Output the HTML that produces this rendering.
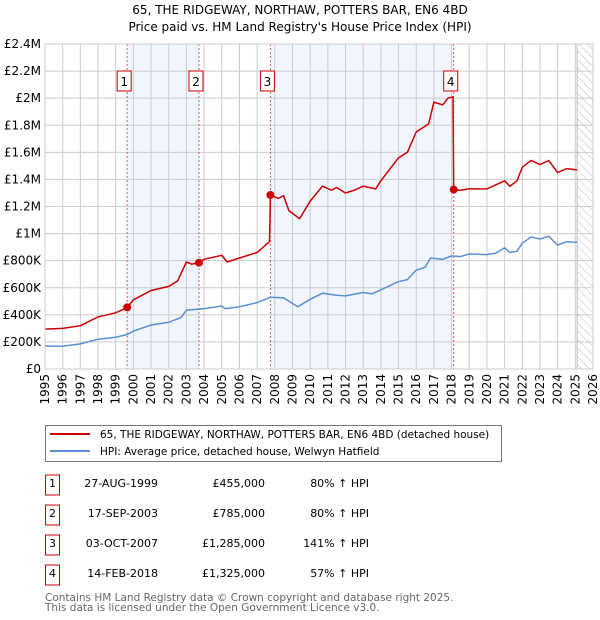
<!DOCTYPE html>
<html><head><meta charset="utf-8"><style>
body{margin:0;background:#fff;font-family:"DejaVu Sans","Liberation Sans",sans-serif}
#wrap{position:relative;width:600px;height:620px;overflow:hidden}
.t{font-size:12px;fill:#000;font-family:"DejaVu Sans","Liberation Sans",sans-serif}
.s{font-size:11px;fill:#000;font-family:"DejaVu Sans","Liberation Sans",sans-serif}
.l{font-size:10.5px;fill:#000;font-family:"DejaVu Sans","Liberation Sans",sans-serif}
</style></head><body>
<div id="wrap">
<svg id="svg" width="600" height="620" style="position:absolute;left:0;top:0"></svg>
</div>
<script>
const hpiYears=[1995,1996,1997,1998,1999,1999.65,2000,2001,2002,2002.7,2003,2004,2005,2005.2,2006,2007,2007.75,2008.5,2009.3,2010,2010.7,2011.5,2012,2013,2013.5,2014,2015,2015.5,2016,2016.5,2016.8,2017.5,2018,2018.5,2019,2020,2020.5,2021,2021.3,2021.7,2022,2022.5,2023,2023.5,2024,2024.5,2025.1];
const hpiValues=[170,168,185,220,235,255,280,325,345,380,435,445,465,445,460,490,530,525,460,515,560,545,540,565,555,585,645,660,730,750,820,810,835,830,850,845,855,895,860,870,930,975,960,980,915,940,935];
const priceYears=[1995,1996,1997,1998,1999,1999.65,2000,2001,2002,2002.5,2003,2003.3,2003.71,2004,2005,2005.3,2006,2007,2007.7,2007.75,2008.2,2008.5,2008.8,2009.4,2010,2010.7,2011.2,2011.5,2012,2012.5,2013,2013.7,2014,2015,2015.5,2016,2016.7,2017,2017.5,2017.8,2018.08,2018.12,2018.5,2019,2020,2020.5,2021,2021.3,2021.7,2022,2022.5,2023,2023.5,2024,2024.5,2025.1];
const priceValues=[295,300,320,385,415,455,510,580,610,650,790,775,785,810,840,790,820,860,940,1285,1260,1280,1170,1110,1240,1350,1320,1340,1300,1320,1350,1330,1390,1560,1600,1750,1810,1970,1950,2000,2010,1325,1320,1330,1330,1360,1390,1350,1390,1490,1540,1510,1540,1450,1480,1470];
const saleYears=[1999.65,2003.71,2007.75,2018.12];
const saleValues=[455,785,1285,1325];
const saleLabels=["1","2","3","4"];
const yTicks=[0,200,400,600,800,1000,1200,1400,1600,1800,2000,2200,2400];
const yTickLabels=["£0","£200K","£400K","£600K","£800K","£1M","£1.2M","£1.4M","£1.6M","£1.8M","£2M","£2.2M","£2.4M"];
const xTicks=[1995,1996,1997,1998,1999,2000,2001,2002,2003,2004,2005,2006,2007,2008,2009,2010,2011,2012,2013,2014,2015,2016,2017,2018,2019,2020,2021,2022,2023,2024,2025,2026];
const saleDates=["27-AUG-1999","17-SEP-2003","03-OCT-2007","14-FEB-2018"];
const salePrices=["£455,000","£785,000","£1,285,000","£1,325,000"];
const saleHpi=["80% ↑ HPI","80% ↑ HPI","141% ↑ HPI","57% ↑ HPI"];

const X0=45,X1=593,Y0=369,Y1=44;
const xs=y=>X0+(y-1995)/(2026-1995)*(X1-X0);
const ys=v=>Y0-v/2400*(Y0-Y1);
const NS="http://www.w3.org/2000/svg";
const svg=document.getElementById('svg');
function mk(tag,attrs,parent){const e=document.createElementNS(NS,tag);for(const k in attrs)e.setAttribute(k,attrs[k]);(parent||svg).appendChild(e);return e;}

let t=mk('text',{x:300,y:14,'text-anchor':'middle',class:'t'});t.textContent="65, THE RIDGEWAY, NORTHAW, POTTERS BAR, EN6 4BD";


t=mk('text',{x:300,y:31,'text-anchor':'middle',class:'t'});t.textContent="Price paid vs. HM Land Registry's House Price Index (HPI)";



let sh=mk('rect',{x:xs(saleYears[0]),y:Y1,width:xs(saleYears[1])-xs(saleYears[0]),height:Y0-Y1,fill:'#eef3fc',opacity:0.8});


sh=mk('rect',{x:xs(saleYears[2]),y:Y1,width:xs(saleYears[3])-xs(saleYears[2]),height:Y0-Y1,fill:'#eef3fc',opacity:0.8});



xTicks.forEach(y=>{const l=mk('line',{x1:xs(y),x2:xs(y),y1:Y1,y2:Y0,stroke:'#ccc','stroke-width':1});


const tx=mk('text',{x:0,y:0,class:'t','text-anchor':'end',transform:`translate(${xs(y)+4},${Y0+5}) rotate(-90)`});tx.textContent=y;

});
yTicks.forEach((v,i)=>{const l=mk('line',{x1:X0,x2:X1,y1:ys(v),y2:ys(v),stroke:'#ccc','stroke-width':1});


const tx=mk('text',{x:X0-4,y:ys(v)+4,class:'t','text-anchor':'end'});tx.textContent=yTickLabels[i];

});

const defs=mk('defs',{});
const pat=mk('pattern',{id:'h',width:6,height:6,patternUnits:'userSpaceOnUse',patternTransform:'rotate(-45)'},defs);
mk('line',{x1:0,y1:0,x2:0,y2:6,stroke:'#bbb','stroke-width':1},pat);
const hx=xs(2025.1);
let hr=mk('rect',{x:hx,y:Y1,width:X1-hx,height:Y0-Y1,fill:'url(#h)',stroke:'#bbb'});



saleYears.forEach((y,i)=>{const l=mk('line',{x1:xs(y),x2:xs(y),y1:Y1,y2:Y0,stroke:'#e55','stroke-width':1,'stroke-dasharray':'2,2'});


const g=mk('g',{});


mk('rect',{x:xs(y)-10,y:71,width:14,height:20,fill:'#fff',stroke:'#c00'},g);
const tx=mk('text',{x:xs(y)-3,y:86,'text-anchor':'middle',class:'t'},g);tx.textContent=saleLabels[i];});

function path(xa,va){return xa.map((y,i)=>(i?'L':'M')+xs(y).toFixed(1)+','+ys(va[i]).toFixed(1)).join('');}
let p=mk('path',{d:path(hpiYears,hpiValues),fill:'none',stroke:'#5b8fd4','stroke-width':1.5});


p=mk('path',{d:path(priceYears,priceValues),fill:'none',stroke:'#cc0000','stroke-width':1.5});


saleYears.forEach((y,i)=>{const c=mk('circle',{cx:xs(y),cy:ys(saleValues[i]),r:4,fill:'#cc0000'});

});

let ax=mk('rect',{x:X0,y:Y1,width:X1-X0,height:Y0-Y1,fill:'none',stroke:'#ccc'});



const lg=mk('g',{});


mk('rect',{x:45.5,y:425.5,width:456,height:36,fill:'#fff',stroke:'#777'},lg);
mk('line',{x1:50,x2:90,y1:434,y2:434,stroke:'#cc0000','stroke-width':2},lg);
mk('line',{x1:50,x2:90,y1:451,y2:451,stroke:'#5b8fd4','stroke-width':2},lg);
t=mk('text',{x:100,y:438,class:'l'},lg);t.textContent="65, THE RIDGEWAY, NORTHAW, POTTERS BAR, EN6 4BD (detached house)";


t=mk('text',{x:100,y:455,class:'l'},lg);t.textContent="HPI: Average price, detached house, Welwyn Hatfield";



saleLabels.forEach((lab,i)=>{const cy=485+i*30;
const g=mk('g',{});


mk('rect',{x:45.5,y:cy-10,width:14,height:20,fill:'#fff',stroke:'#c00'},g);
let a=mk('text',{x:52.5,y:cy+2,'text-anchor':'middle',class:'s'},g);a.textContent=lab;
a=mk('text',{x:158,y:cy+2,'text-anchor':'end',class:'s'},g);a.textContent=saleDates[i];
a=mk('text',{x:265,y:cy+2,'text-anchor':'end',class:'s'},g);a.textContent=salePrices[i];
a=mk('text',{x:369,y:cy+2,'text-anchor':'end',class:'s'},g);a.textContent=saleHpi[i];});

t=mk('text',{x:45,y:601,style:'font-size:10.5px;fill:#666;font-family:"DejaVu Sans",sans-serif'});t.textContent="Contains HM Land Registry data © Crown copyright and database right 2025.";


t=mk('text',{x:45,y:611,style:'font-size:10.5px;fill:#666;font-family:"DejaVu Sans",sans-serif'});t.textContent="This data is licensed under the Open Government Licence v3.0.";


</script>
</body></html>
